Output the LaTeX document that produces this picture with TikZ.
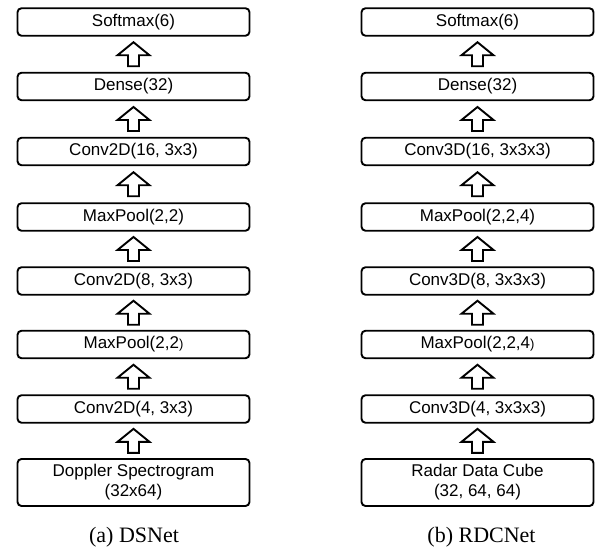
\documentclass[tikz,border=0pt]{standalone}
\usepackage{fontspec}
\setmainfont{Liberation Sans}
\newfontfamily\capfont{Liberation Serif}
\usetikzlibrary{calc}
\tikzset{
  layer/.style={draw=black, line width=1.9pt, rounded corners=4pt, minimum width=232pt, minimum height=27.5pt, inner sep=0pt, font=\fontsize{17}{20}\selectfont, text=black},
  inbox/.style={layer, minimum height=47pt, align=center},
  uparrow/.style={draw=black, line width=1.9pt, fill=white, line join=miter},
  captext/.style={font=\capfont\fontsize{22}{24}\selectfont, anchor=base}
}
\newcommand\blockup[2]{%
  \draw[uparrow] ($(#1.north)!0.5!(#2.south)$) ++(0,12) -- ++(-16,-13) -- ++(10.5,0) -- ++(0,-11) -- ++(11,0) -- ++(0,11) -- ++(10.5,0) -- cycle;}
\newcommand\smp[1]{{\fontsize{13}{15}\selectfont #1}}
\begin{document}
\begin{tikzpicture}[x=1pt,y=1pt]
\useasboundingbox (0,0) rectangle (603,548);
% left column, centre x = 133.5
\node[layer] (l7) at (133.5,526) {Softmax(6)};
\node[layer] (l6) at (133.5,461.5) {Dense(32)};
\node[layer] (l5) at (133.5,396.5) {Conv2D(16, 3x3)};
\node[layer] (l4) at (133.5,331) {MaxPool(2,2)};
\node[layer] (l3) at (133.5,267) {Conv2D(8, 3x3)};
\node[layer] (l2) at (133.5,203.5) {MaxPool(2,2\smp{)}};
\node[layer] (l1) at (133.5,139) {Conv2D(4, 3x3)};
\node[inbox] (l0) at (133.5,65.5) {Doppler Spectrogram\\(32x64)};
\blockup{l0}{l1}
\blockup{l1}{l2}
\blockup{l2}{l3}
\blockup{l3}{l4}
\blockup{l4}{l5}
\blockup{l5}{l6}
\blockup{l6}{l7}
\node[captext] (capa) at (134,5) {(a) DSNet};
% right column, centre x = 477.5
\node[layer] (r7) at (477.5,526) {Softmax(6)};
\node[layer] (r6) at (477.5,461.5) {Dense(32)};
\node[layer] (r5) at (477.5,396.5) {Conv3D(16, 3x3x3)};
\node[layer] (r4) at (477.5,331) {MaxPool(2,2,4)};
\node[layer] (r3) at (477.5,267) {Conv3D(8, 3x3x3)};
\node[layer] (r2) at (477.5,203.5) {MaxPool(2,2,4\smp{)}};
\node[layer] (r1) at (477.5,139) {Conv3D(4, 3x3x3)};
\node[inbox] (r0) at (477.5,65.5) {Radar Data Cube\\(32, 64, 64)};
\blockup{r0}{r1}
\blockup{r1}{r2}
\blockup{r2}{r3}
\blockup{r3}{r4}
\blockup{r4}{r5}
\blockup{r5}{r6}
\blockup{r6}{r7}
\node[captext] (capb) at (481.5,5) {(b) RDCNet};
\end{tikzpicture}
\end{document}
